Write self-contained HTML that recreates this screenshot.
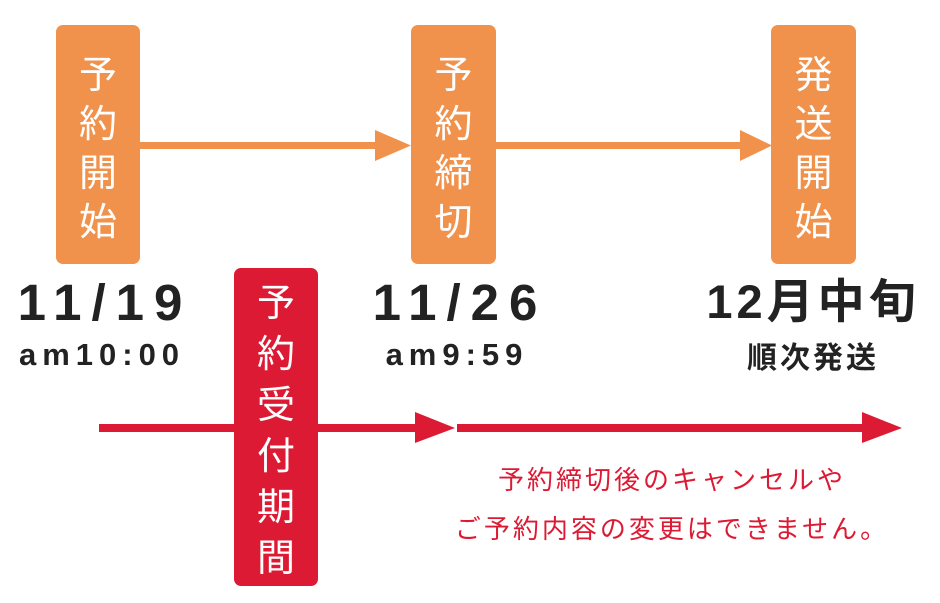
<!DOCTYPE html>
<html><head><meta charset="utf-8"><style>
body{margin:0;width:940px;height:603px;background:#fff;position:relative;overflow:hidden;font-family:"Liberation Sans","Noto Sans CJK JP",sans-serif}
.box{position:absolute;border-radius:7px;color:#fff;font-family:"Noto Sans CJK JP",sans-serif;font-weight:normal;font-size:38px;text-align:center;display:flex;flex-direction:column;justify-content:center;line-height:49px}
.o{background:#f0924b}
.r{background:#dd1a33;line-height:51px}
.t{position:absolute;text-align:center;color:#222;font-weight:bold;white-space:nowrap}
.big{font-size:51px;letter-spacing:10px;line-height:50px;text-indent:10px}
.sm{font-size:31px;letter-spacing:6px;line-height:34px;text-indent:6px}
.note{position:absolute;color:#dd1a33;font-family:"Noto Sans CJK JP",sans-serif;font-weight:normal;font-size:26px;letter-spacing:3px;white-space:nowrap;text-align:center;width:600px;left:372px}
</style></head><body>
<svg width="940" height="603" style="position:absolute;left:0;top:0">
<rect x="140" y="142" width="240" height="7" fill="#f0924b"/>
<polygon points="375,130 411,145.5 375,161" fill="#f0924b"/>
<rect x="496" y="142" width="250" height="7" fill="#f0924b"/>
<polygon points="740,130 772,145.5 740,161" fill="#f0924b"/>
<rect x="99" y="424" width="320" height="8" fill="#dd1a33"/>
<polygon points="415,412 455,428 415,443" fill="#dd1a33"/>
<rect x="457" y="424" width="410" height="8" fill="#dd1a33"/>
<polygon points="862,412 902,428 862,443" fill="#dd1a33"/>
</svg>
<div class="box o" style="left:56px;top:25px;width:84px;height:239px"><div>予</div><div>約</div><div>開</div><div>始</div></div>
<div class="box o" style="left:411px;top:25px;width:85px;height:239px"><div>予</div><div>約</div><div>締</div><div>切</div></div>
<div class="box o" style="left:771px;top:25px;width:85px;height:239px"><div>発</div><div>送</div><div>開</div><div>始</div></div>
<div class="box r" style="left:234px;top:268px;width:84px;height:318px"><div>予</div><div>約</div><div>受</div><div>付</div><div>期</div><div>間</div></div>
<div class="t big" style="left:0;width:200px;top:278px">11/19</div>
<div class="t sm" style="left:0;width:198px;top:338px">am10:00</div>
<div class="t big" style="left:355px;width:200px;top:278px">11/26</div>
<div class="t sm" style="left:355px;width:198px;top:338px">am9:59</div>
<div class="t" style="left:700px;width:226px;top:277px;font-size:47px;letter-spacing:4px;line-height:50px;font-family:'Liberation Sans','Noto Sans CJK JP',sans-serif">12月中旬</div>
<div class="t" style="left:700px;width:226px;top:338px;font-size:30px;letter-spacing:3px;line-height:34px;font-family:'Noto Sans CJK JP',sans-serif">順次発送</div>
<div class="note" style="top:460px">予約締切後のキャンセルや</div>
<div class="note" style="top:509px">ご予約内容の変更はできません。</div>
</body></html>
